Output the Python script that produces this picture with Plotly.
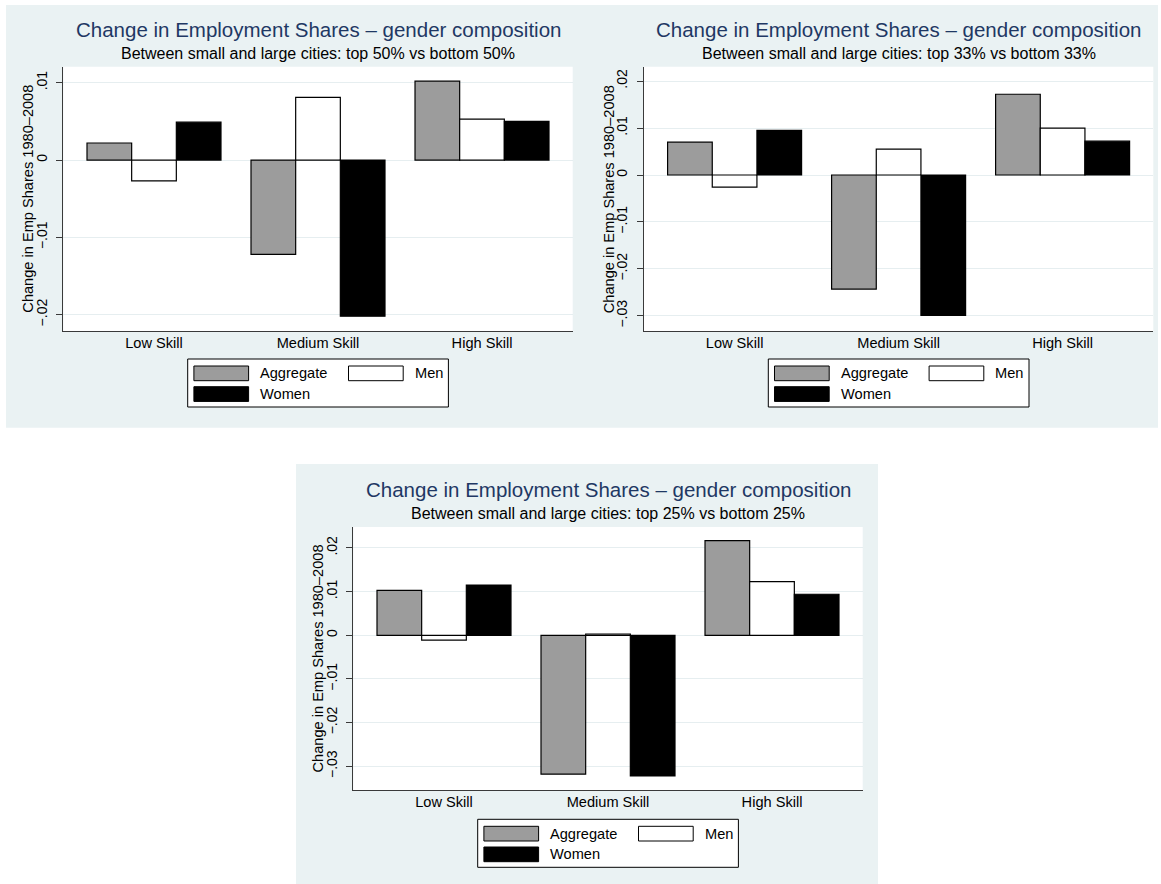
import plotly.graph_objects as go

# ---------------- data ----------------
categories = ["Low Skill", "Medium Skill", "High Skill"]
series_names = ["Aggregate", "Men", "Women"]

p50_aggregate = [0.0022, -0.0122, 0.0102]
p50_men = [-0.0027, 0.0081, 0.0053]
p50_women = [0.0049, -0.0202, 0.0050]

p33_aggregate = [0.0070, -0.0243, 0.0172]
p33_men = [-0.0026, 0.0055, 0.0100]
p33_women = [0.0095, -0.0299, 0.0072]

p25_aggregate = [0.0103, -0.0318, 0.0217]
p25_men = [-0.0011, 0.0003, 0.0123]
p25_women = [0.0115, -0.0322, 0.0094]

main_title = "Change in Employment Shares \u2013 gender composition"
subtitles = [
    "Between small and large cities: top 50% vs bottom 50%",
    "Between small and large cities: top 33% vs bottom 33%",
    "Between small and large cities: top 25% vs bottom 25%",
]
y_title = "Change in Emp Shares 1980\u20132008"

p50_ticks = [-0.02, -0.01, 0, 0.01]
p50_ticktext = ["\u2212.02", "\u2212.01", "0", ".01"]
p33_ticks = [-0.03, -0.02, -0.01, 0, 0.01, 0.02]
p33_ticktext = ["\u2212.03", "\u2212.02", "\u2212.01", "0", ".01", ".02"]
p25_ticks = [-0.03, -0.02, -0.01, 0, 0.01, 0.02]
p25_ticktext = ["\u2212.03", "\u2212.02", "\u2212.01", "0", ".01", ".02"]

p50_range = [-0.02211, 0.01207]
p33_range = [-0.03323, 0.02307]
p25_range = [-0.0355, 0.0248]

# ---------------- styling ----------------
W, H = 1161, 884
FONT = "Liberation Sans, Arial, sans-serif"
BG = "#eaf2f3"
GRID = "#e6eef0"
AXIS = "#3a3a3a"
TITLE_COLOR = "#1f3864"
BAR_COLORS = ["#9c9c9c", "#ffffff", "#000000"]
FS = 14.6
TICK_FS = 14


def px(x):
    return x / W


def py(y):
    return 1 - y / H


panels = [
    dict(plot=(63.3, 66.7, 572.7, 331.0), series=[p50_aggregate, p50_men, p50_women],
         ticks=p50_ticks, ticktext=p50_ticktext, yrange=p50_range, sub=subtitles[0]),
    dict(plot=(643.9, 66.7, 1153.3, 331.0), series=[p33_aggregate, p33_men, p33_women],
         ticks=p33_ticks, ticktext=p33_ticktext, yrange=p33_range, sub=subtitles[1]),
    dict(plot=(353.3, 527.0, 862.7, 790.3), series=[p25_aggregate, p25_men, p25_women],
         ticks=p25_ticks, ticktext=p25_ticktext, yrange=p25_range, sub=subtitles[2]),
]

fig = go.Figure()
shapes = []
annotations = []

# panel backgrounds
shapes.append(dict(type="rect", xref="paper", yref="paper", x0=px(6), x1=px(1158),
                   y0=py(427.7), y1=py(5), fillcolor=BG, line=dict(width=0), layer="below"))
shapes.append(dict(type="rect", xref="paper", yref="paper", x0=px(296), x1=px(878),
                   y0=py(884), y1=py(464), fillcolor=BG, line=dict(width=0), layer="below"))

layout_axes = {}
for i, p in enumerate(panels):
    n = "" if i == 0 else str(i + 1)
    x0, y0, x1, y1 = p["plot"]
    # white plot region
    shapes.append(dict(type="rect", xref="paper", yref="paper", x0=px(x0), x1=px(x1),
                       y0=py(y1), y1=py(y0), fillcolor="white", line=dict(width=0), layer="below"))
    for s, name in enumerate(series_names):
        fig.add_trace(go.Bar(
            x=categories, y=p["series"][s], name=name,
            marker=dict(color=BAR_COLORS[s], line=dict(color="black", width=1.2)),
            xaxis="x" + n, yaxis="y" + n, showlegend=False,
        ))
    layout_axes["xaxis" + n] = dict(
        domain=[px(x0), px(x1)], anchor="y" + n, type="category",
        range=[-0.553, 2.553], showline=True, linecolor=AXIS, linewidth=1,
        ticks="", showgrid=False, zeroline=False,
        tickfont=dict(family=FONT, size=FS, color="black"),
        ticklabelstandoff=-2,
    )
    layout_axes["yaxis" + n] = dict(
        domain=[py(y1), py(y0)], anchor="x" + n, range=p["yrange"],
        tickvals=p["ticks"], ticktext=p["ticktext"], tickangle=-90,
        ticks="outside", ticklen=6, tickcolor=AXIS, tickwidth=1,
        showline=True, linecolor=AXIS, linewidth=1,
        showgrid=True, gridcolor=GRID, gridwidth=1, zeroline=False,
        tickfont=dict(family=FONT, size=TICK_FS, color="black"),
        ticklabelstandoff=4,
    )
    # y-axis title
    annotations.append(dict(text=y_title, x=px(x0 - 35.5), y=py((y0 + y1) / 2), xref="paper", yref="paper",
                            xanchor="center", yanchor="middle", textangle=-90, showarrow=False,
                            font=dict(family=FONT, size=FS, color="black")))
    cx = (x0 + x1) / 2
    annotations.append(dict(text=main_title, x=px(cx), y=py(y0 - 37.2), xref="paper", yref="paper",
                            xanchor="center", yanchor="middle", showarrow=False,
                            font=dict(family=FONT, size=20.5, color=TITLE_COLOR)))
    annotations.append(dict(text=p["sub"], x=px(cx), y=py(y0 - 13.7), xref="paper", yref="paper",
                            xanchor="center", yanchor="middle", showarrow=False,
                            font=dict(family=FONT, size=16, color="black")))
    # legend (drawn manually to match Stata's wide key boxes)
    ox, oy = x0 - 63.3, y0 - 66.7
    shapes.append(dict(type="rect", xref="paper", yref="paper", x0=px(187.7 + ox), x1=px(448.4 + ox),
                       y0=py(407 + oy), y1=py(359 + oy), fillcolor="white",
                       line=dict(color="black", width=1)))
    keys = [(193.9, 366.0, 0), (348.5, 366.0, 1), (193.9, 386.7, 2)]
    label_x = [257.9, 412.5, 257.9]
    for k, (kx, ky, s) in enumerate(keys):
        shapes.append(dict(type="rect", xref="paper", yref="paper",
                           x0=px(kx + ox), x1=px(kx + 54.7 + ox),
                           y0=py(ky + 14.7 + oy), y1=py(ky + oy),
                           fillcolor=BAR_COLORS[s], line=dict(color="black", width=1)))
        annotations.append(dict(text=series_names[s], x=px(label_x[k] + ox), y=py(ky + 7.4 + oy),
                                xref="paper", yref="paper", xanchor="left", yanchor="middle",
                                showarrow=False, font=dict(family=FONT, size=FS, color="black")))

fig.update_layout(
    width=W, height=H, margin=dict(l=0, r=0, t=0, b=0),
    paper_bgcolor="white", plot_bgcolor="white",
    barmode="group", bargap=0.183, bargroupgap=0,
    font=dict(family=FONT, size=FS, color="black"),
    shapes=shapes, annotations=annotations, showlegend=False,
    **layout_axes,
)

fig.write_html("out.html", config={"displayModeBar": False},
               post_script="document.body.style.margin='0px';")
